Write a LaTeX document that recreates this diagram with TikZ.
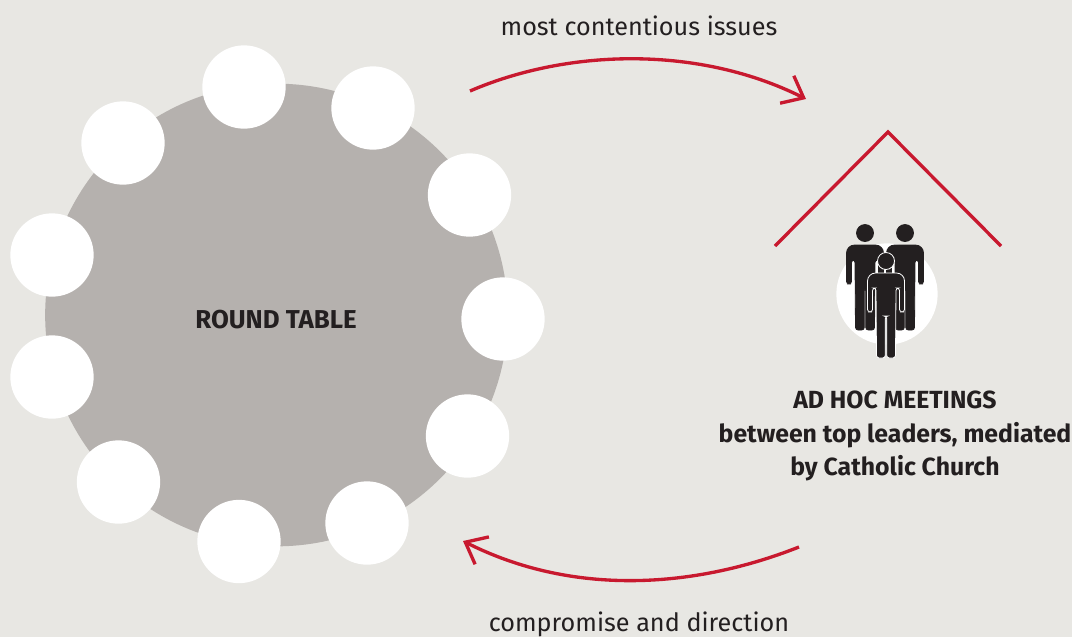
\documentclass[tikz,border=0pt]{standalone}
\usepackage{fontspec}
\setmainfont{Fira Sans}
\usepackage{xcolor}
\usetikzlibrary{arrows.meta, positioning}
\definecolor{PageGrey}{HTML}{E8E7E3}
\definecolor{TableGrey}{HTML}{B5B1AE}
\definecolor{ArrowRed}{HTML}{C8192F}
\definecolor{InkBlack}{HTML}{231F20}
\tikzset{
    tablebox/.style={circle, minimum size=347pt, inner sep=0pt, fill=TableGrey},
    seatbox/.style={circle, minimum size=62.5pt, inner sep=0pt, fill=white},
    flowarrow/.style={-{Straight Barb[length=14pt, width=23pt, line width=2.5pt]}, line width=2.5pt, ArrowRed},
    rooflines/.style={line width=2.5pt, ArrowRed, line join=miter},
    flowlabel/.style={font=\fontsize{18.9}{22}\selectfont, text=InkBlack},
    tablelabel/.style={font=\bfseries\fontsize{19.4}{22}\selectfont, text=InkBlack},
    meetinglabel/.style={font=\bfseries\fontsize{18.6}{25.2}\selectfont, text=InkBlack, align=center},
    person/.style={fill=InkBlack, draw=#1, line width=0.6pt},
}
% one standing figure, origin at the centre of the head
\newcommand{\personshape}[3]{%
    \path[person=#3] (#1,#2) circle[radius=8.5];
    \path[person=#3, rounded corners=2] (#1-18.5,#2+51) [rounded corners=6] -- (#1-18.5,#2+12) -- (#1+18.5,#2+12)
        [rounded corners=2] -- (#1+18.5,#2+51) -- (#1+13.5,#2+51) -- (#1+13.5,#2+27) -- (#1+10,#2+27) -- (#1+9.5,#2+97) -- (#1+0.7,#2+97)
        -- (#1+0.7,#2+55) -- (#1-0.7,#2+55) -- (#1-0.7,#2+97) -- (#1-9.5,#2+97) -- (#1-10,#2+27) -- (#1-13.5,#2+27) -- (#1-13.5,#2+51) -- cycle;
}
\begin{document}
\begin{tikzpicture}[x=0.75pt, y=-0.75pt]
    \useasboundingbox (0,0) rectangle (1072,637);
    \fill[PageGrey] (0,0) rectangle (1072,637);

    % Round table with its seats
    \node[tablebox] (table) at (276.5,315) {};
    \node[tablelabel] (tablelabel) at (276,319.5) {ROUND TABLE};
    \foreach \i/\x/\y in {1/244/87, 2/373/108, 3/469.5/195, 4/503/319, 5/467.5/436, 6/367/523,
        7/239/541.5, 8/118.5/482, 9/52/377, 10/52/255, 11/123/143} {
        \node[seatbox] (seat\i) at (\x,\y) {};
    }

    % Ad hoc meetings under the roof
    \coordinate (roofleft) at (775,246);
    \coordinate (rooftop) at (888,132);
    \coordinate (roofright) at (1001,246);
    \draw[rooflines] (roofleft) -- (rooftop) -- (roofright);
    \node[circle, minimum size=76pt, inner sep=0pt, fill=white] (meetingdisc) at (887,294) {};
    \personshape{865}{233}{InkBlack}
    \personshape{905}{233}{InkBlack}
    \personshape{886}{261}{white}
    \node[meetinglabel] (meetinglabel) at (895,436) {AD HOC MEETINGS\\between top leaders, mediated\\by Catholic Church};

    % Flows between table and meetings
    \coordinate (topstart) at (470,91);
    \coordinate (topend) at (806,99);
    \coordinate (bottomstart) at (799,547);
    \coordinate (bottomend) at (463,541);
    \draw[flowarrow] (topstart) .. controls (570,48) and (700,46) .. (topend);
    \draw[flowarrow] (bottomstart) .. controls (690,590) and (570,595) .. (bottomend);
    \node[flowlabel] (toplabel) at (639,26) {most contentious issues};
    \node[flowlabel] (bottomlabel) at (639,624.5) {compromise and direction};
\end{tikzpicture}
\end{document}
